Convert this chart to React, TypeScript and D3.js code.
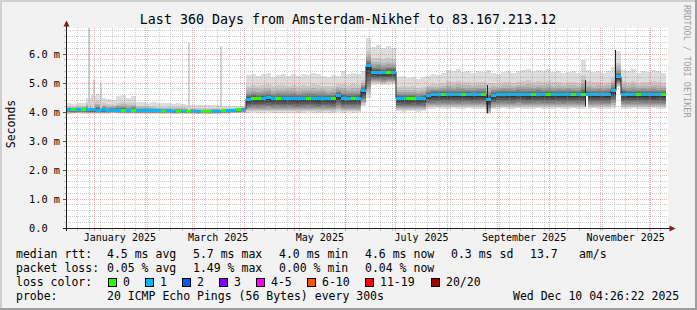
import React from "react";
import * as d3 from "d3";

const W = 697;
const H = 310;
const DAY = 86400000;
const END = Date.UTC(2025, 11, 10, 4, 26, 22);
const SPAN_DAYS = 360;
const START = END - SPAN_DAYS * DAY;
const BIN_DAYS = 3;

// ---- data (ms), one value per 3-day bin (120 bins) ----
const medianA = [4.09, 4.08, 4.09, 4.1, 4.08, 4.09, 4.07, 4.08, 4.06, 4.07, 4.06, 4.07, 4.05, 4.06, 4.05, 4.04, 4.05, 4.04, 4.04, 4.03, 4.04, 4.02, 4.03, 4.03, 4.02, 4.03, 4.01, 4.02, 4.01, 4.02, 4.03, 4.04, 4.05, 4.06, 4.08, 4.1];
const medianB = [4.45, 4.48, 4.47, 4.48, 4.49, 4.47, 4.48, 4.47, 4.48, 4.47, 4.46, 4.47, 4.48, 4.47, 4.46, 4.48, 4.47, 4.46, 4.58, 4.47, 4.48, 4.47, 4.48, 4.75];
const medianC = [5.6, 5.38, 5.37, 5.36, 5.37, 5.38];
const medianD = [4.47, 4.46, 4.46, 4.47, 4.46, 4.47];
const medianE = [4.58, 4.6, 4.61, 4.6, 4.59, 4.6, 4.6, 4.61, 4.6, 4.59, 4.6, 4.61, 4.43, 4.58, 4.6, 4.61, 4.6, 4.6, 4.62, 4.6, 4.59, 4.6, 4.61, 4.6, 4.6, 4.59, 4.6, 4.6, 4.61, 4.6, 4.6, 4.62, 4.6, 4.6, 4.61, 4.6, 4.6, 4.75, 5.22, 4.62, 4.6, 4.6, 4.61, 4.6, 4.6, 4.59, 4.6, 4.6];

const maxA = [4.3, 4.28, 4.3, 4.32, 4.5, 4.55, 4.62, 4.5, 4.45, 4.41, 4.55, 4.58, 4.5, 4.55, 4.36, 4.35, 4.32, 4.33, 4.3, 4.31, 4.3, 4.28, 4.3, 4.29, 4.25, 4.24, 4.26, 4.24, 4.23, 4.25, 4.24, 4.2, 4.21, 4.2, 4.22, 4.22];
const maxB = [5.28, 5.32, 5.25, 5.3, 5.35, 5.22, 5.28, 5.3, 5.26, 5.33, 5.24, 5.3, 5.27, 5.35, 5.3, 5.25, 5.22, 5.28, 5.26, 5.4, 5.3, 5.35, 5.32, 5.4];
const maxC = [6.55, 6.25, 6.3, 6.22, 6.28, 6.2];
const maxD = [5.2, 5.25, 5.18, 5.22, 5.15, 5.2];
const maxE = [5.25, 5.3, 5.28, 5.35, 5.45, 5.4, 5.48, 5.38, 5.4, 5.35, 5.42, 5.38, 5.45, 5.35, 5.3, 5.38, 5.42, 5.35, 5.4, 5.45, 5.5, 5.42, 5.45, 5.4, 5.48, 5.38, 5.42, 5.35, 5.38, 5.4, 5.35, 5.8, 5.45, 5.38, 5.4, 5.35, 5.42, 5.55, 6.1, 5.45, 5.4, 5.48, 5.35, 5.42, 5.38, 5.45, 5.4, 5.35];

const minA = [3.95, 3.95, 3.96, 3.95, 3.95, 3.94, 3.95, 3.95, 3.95, 3.96, 3.95, 3.95, 3.94, 3.95, 3.95, 3.95, 3.94, 3.95, 3.95, 3.94, 3.95, 3.94, 3.94, 3.95, 3.94, 3.94, 3.93, 3.94, 3.93, 3.94, 3.94, 3.95, 3.95, 3.96, 3.96, 3.97];
const minB = [3.98, 3.99, 3.98, 3.98, 3.99, 3.98, 3.98, 3.97, 3.98, 3.98, 3.97, 3.98, 3.99, 3.98, 3.97, 3.98, 3.98, 3.97, 4.0, 3.98, 3.99, 3.98, 3.99, 4.2];
const minC = [4.5, 4.95, 4.96, 4.94, 4.95, 4.96];
const minD = [4.02, 4.01, 4.02, 4.02, 4.01, 4.02];
const minE = [4.12, 4.12, 4.13, 4.12, 4.12, 4.13, 4.12, 4.12, 4.13, 4.12, 4.12, 4.12, 3.92, 4.1, 4.12, 4.13, 4.12, 4.12, 4.13, 4.12, 4.12, 4.12, 4.13, 4.12, 4.12, 4.12, 4.13, 4.12, 4.12, 4.13, 4.12, 4.12, 4.12, 4.13, 4.12, 4.12, 4.12, 4.15, 4.88, 4.12, 4.12, 4.13, 4.12, 4.12, 4.12, 4.13, 4.12, 4.12];

// loss count class per bin (0 = no loss, 1 = one of 20 lost)
const lossA = [1, 0, 1, 0, 1, 1, 1, 1, 1, 1, 1, 0, 1, 0, 1, 1, 1, 1, 1, 0, 1, 1, 0, 1, 0, 1, 1, 0, 0, 1, 1, 0, 1, 1, 0, 1];
const lossB = [1, 0, 0, 1, 1, 1, 0, 1, 1, 1, 1, 1, 0, 1, 1, 1, 1, 0, 1, 1, 1, 0, 1, 1];
const lossC = [1, 1, 1, 1, 0, 1];
const lossD = [1, 1, 0, 0, 1, 1];
const lossE = [1, 1, 1, 0, 1, 1, 1, 0, 1, 1, 1, 0, 1, 1, 1, 1, 1, 1, 1, 1, 1, 0, 1, 1, 0, 1, 1, 1, 1, 0, 1, 0, 1, 1, 1, 1, 1, 1, 1, 1, 1, 1, 0, 1, 1, 1, 1, 0];

const medianMs = [...medianA, ...medianB, ...medianC, ...medianD, ...medianE];
const maxMs = [...maxA, ...maxB, ...maxC, ...maxD, ...maxE];
const minMs = [...minA, ...minB, ...minC, ...minD, ...minE];
const lossClass = [...lossA, ...lossB, ...lossC, ...lossD, ...lossE];

// single-sample outliers (day offset from start, ms)
const spikes = [
  { day: 13.6, ms: 6.95 },
  { day: 15.0, ms: 4.6 },
  { day: 16.2, ms: 5.1 },
  { day: 20.8, ms: 5.0 },
  { day: 73.6, ms: 6.38 },
  { day: 92.4, ms: 6.28 },
];
const medianJumps = [
  { day: 253.0, lo: 3.96, hi: 4.93 },
  { day: 311.4, lo: 4.2, hi: 5.1 },
  { day: 329.8, lo: 4.6, hi: 6.14 },
];
const gaps = [{ day: 311.9, days: 1.2, hi: 4.55, lo: 4.0 }];

// smoke layer shape (outer -> inner), fraction of spread above/below median
const upperFrac = [1.0, 0.55, 0.4, 0.3, 0.22, 0.16, 0.11, 0.07, 0.04, 0.02];
const lowerFrac = [1.0, 0.9, 0.82, 0.74, 0.66, 0.57, 0.48, 0.38, 0.27, 0.15];
const smokeGrays = [221, 202, 183, 164, 145, 126, 107, 88, 69, 50];

const yTicks = [0, 1, 2, 3, 4, 5, 6];
const yTickLabels = ["0.0", "1.0 m", "2.0 m", "3.0 m", "4.0 m", "5.0 m", "6.0 m"];
const monthLabelIdx = [0, 2, 4, 6, 8, 10];
const monthLabels = ["January 2025", "March 2025", "May 2025", "July 2025", "September 2025", "November 2025"];

const lossLegend = [
  { label: "0", color: "#26ff00", x: 108 },
  { label: "1", color: "#00b8ff", x: 145 },
  { label: "2", color: "#0059ff", x: 182 },
  { label: "3", color: "#7e00ff", x: 219 },
  { label: "4-5", color: "#ff00ff", x: 256 },
  { label: "6-10", color: "#ff5500", x: 307 },
  { label: "11-19", color: "#ff0000", x: 365 },
  { label: "20/20", color: "#a10000", x: 431 },
];
const rttRow = [
  ["median rtt:", 16], ["4.5 ms avg", 107], ["5.7 ms max", 193], ["4.0 ms min", 279],
  ["4.6 ms now", 365], ["0.3 ms sd", 451], ["13.7", 530], ["am/s", 579],
] as [string, number][];
const lossRow = [
  ["packet loss:", 16], ["0.05 % avg", 107], ["1.49 % max", 193], ["0.00 % min", 279], ["0.04 % now", 365],
] as [string, number][];
const probeRow = [
  ["probe:", 16], ["20 ICMP Echo Pings (56 Bytes) every 300s", 107], ["Wed Dec 10 04:26:22 2025", 513],
] as [string, number][];

const MONO = "'DejaVu Sans Mono', monospace";
const X0 = 66, X1 = 666, Y0 = 228, Y1 = 28;

export default function App() {
  const x = d3.scaleUtc().domain([new Date(START), new Date(END)]).range([X0, X1]);
  const y = d3.scaleLinear().domain([0, 6.9]).range([Y0, Y1]);
  const xd = (day: number) => x(new Date(START + day * DAY));

  const bins = medianMs.map((m, i) => ({
    x0: xd(i * BIN_DAYS),
    x1: xd((i + 1) * BIN_DAYS),
    med: m,
    max: maxMs[i],
    min: minMs[i],
    loss: lossClass[i],
  }));

  const lossColor = (c: number) => lossLegend[Math.min(c, lossLegend.length - 1)].color;

  const medLine = d3
    .line<{ d: number; v: number }>()
    .x((p) => xd(p.d))
    .y((p) => y(p.v))
    .curve(d3.curveStepAfter)(
    [...medianMs.map((v, i) => ({ d: i * BIN_DAYS, v })), { d: medianMs.length * BIN_DAYS, v: medianMs[medianMs.length - 1] }]
  );

  // grid
  const minorY = d3.range(1, 35).map((k) => k * 0.2).filter((v) => Math.abs(v - Math.round(v)) > 0.01);
  const months = d3.utcMonth.range(new Date(START), new Date(END));
  const weeks = d3.utcSunday.range(new Date(START), new Date(END));
  const px = (v: number) => Math.floor(v) + 0.5;

  const gridMinor = "rgba(143,143,143,0.45)";
  const gridMajor = "rgba(222,79,79,0.45)";

  return (
    <svg width={W} height={H} style={{ position: "absolute", left: 0, top: 0, display: "block" }} fontFamily={MONO}>
      <rect x={0} y={0} width={W} height={H} fill="#f2f2f2" />
      <rect x={0} y={0} width={W} height={2} fill="#cfcfcf" />
      <rect x={0} y={0} width={2} height={H} fill="#cfcfcf" />
      <rect x={0} y={H - 2} width={W} height={2} fill="#9e9e9e" />
      <rect x={W - 2} y={0} width={2} height={H} fill="#9e9e9e" />
      <rect x={X0} y={Y1} width={668 - X0} height={Y0 - Y1} fill="#ffffff" />

      {/* smoke */}
      <g shapeRendering="crispEdges">
        {bins.map((b, i) =>
          upperFrac.map((uf, k) => {
            const top = b.med + uf * (b.max - b.med);
            const bot = b.med - lowerFrac[k] * (b.med - b.min);
            const g = smokeGrays[k];
            return (
              <rect
                key={`s${i}-${k}`}
                x={b.x0}
                width={b.x1 - b.x0 + 0.01}
                y={y(top)}
                height={y(bot) - y(top)}
                fill={`rgb(${g},${g},${g})`}
              />
            );
          })
        )}
        {spikes.map((s, i) => {
          const bi = Math.floor(s.day / BIN_DAYS);
          const base = medianMs[bi];
          return (
            <rect key={`sp${i}`} x={Math.floor(xd(s.day))} width={1.5} y={Math.max(Y1, y(s.ms))} height={y(base) - Math.max(Y1, y(s.ms))} fill="#d4d4d4" />
          );
        })}
        {gaps.map((g, i) => (
          <rect key={`g${i}`} x={xd(g.day)} width={xd(g.day + g.days) - xd(g.day)} y={y(g.hi)} height={y(g.lo) - y(g.hi)} fill="#ffffff" />
        ))}
      </g>

      {/* median */}
      <path d={medLine ?? ""} fill="none" stroke="#202020" strokeWidth={1} />
      {medianJumps.map((j, i) => (
        <line key={`mj${i}`} x1={px(xd(j.day))} x2={px(xd(j.day))} y1={y(j.lo)} y2={y(j.hi)} stroke="#202020" strokeWidth={1} />
      ))}
      <g shapeRendering="crispEdges">
        {bins.map((b, i) => (
          <rect key={`m${i}`} x={b.x0} width={b.x1 - b.x0 + 0.01} y={y(b.med) - 1.5} height={3} fill={lossColor(b.loss)} />
        ))}
      </g>

      {/* grid */}
      <g shapeRendering="crispEdges" strokeWidth={1}>
        {minorY.map((v, i) => (
          <g key={`hy${i}`}>
            <line x1={64} x2={66} y1={px(y(v))} y2={px(y(v))} stroke={gridMinor} />
            <line x1={66} x2={668} y1={px(y(v))} y2={px(y(v))} stroke={gridMinor} strokeDasharray="1,1" />
          </g>
        ))}
        {weeks.map((w, i) => (
          <g key={`wx${i}`}>
            <line x1={px(x(w))} x2={px(x(w))} y1={Y0} y2={Y0 + 3} stroke={gridMinor} />
            <line x1={px(x(w))} x2={px(x(w))} y1={Y1} y2={Y0} stroke={gridMinor} strokeDasharray="1,1" />
          </g>
        ))}
        {yTicks.slice(1).map((v, i) => (
          <g key={`My${i}`}>
            <line x1={63} x2={66} y1={px(y(v))} y2={px(y(v))} stroke="#555" />
            <line x1={66} x2={668} y1={px(y(v))} y2={px(y(v))} stroke={gridMajor} strokeDasharray="1,1" />
          </g>
        ))}
        {months.map((m, i) => (
          <g key={`Mx${i}`}>
            <line x1={px(x(m))} x2={px(x(m))} y1={Y0} y2={Y0 + 3} stroke={gridMajor} />
            <line x1={px(x(m))} x2={px(x(m))} y1={Y1} y2={Y0} stroke={gridMajor} strokeDasharray="1,1" />
          </g>
        ))}
      </g>

      {/* axes */}
      <g shapeRendering="crispEdges">
        <line x1={66.5} x2={66.5} y1={231} y2={26} stroke="#1f1f1f" />
        <line x1={63} x2={670} y1={228.5} y2={228.5} stroke="#1f1f1f" />
      </g>
      <path d="M63.5,26.5 L69.5,26.5 L66.5,20.5 Z" fill="#801f1f" />
      <path d="M669.5,225.5 L669.5,231.5 L675.5,228.5 Z" fill="#801f1f" />

      {/* y labels */}
      {yTicks.map((v, i) => (
        <text key={`yl${i}`} x={29} y={y(v) + 3.6} fontSize={10.3} fill="#000" style={{ whiteSpace: "pre" }}>
          {yTickLabels[i]}
        </text>
      ))}
      {/* x labels */}
      {monthLabelIdx.map((mi, i) => {
        const a = Date.UTC(2025, mi, 1);
        const b = Date.UTC(2025, mi + 1, 1);
        const cx = (x(new Date(a)) + x(new Date(b))) / 2;
        return (
          <text key={`xl${i}`} x={cx} y={241} fontSize={10} textAnchor="middle" fill="#000">
            {monthLabels[i]}
          </text>
        );
      })}

      {/* titles */}
      <text x={348} y={24} fontSize={13.3} textAnchor="middle" fill="#000">
        Last 360 Days from Amsterdam-Nikhef to 83.167.213.12
      </text>
      <text transform="translate(15,124) rotate(-90)" fontSize={11.5} textAnchor="middle" fill="#000">
        Seconds
      </text>
      <text transform="translate(684,5) rotate(90)" fontSize={8.5} fill="#a0a0a0">
        RRDTOOL / TOBI OETIKER
      </text>

      {/* legend */}
      {rttRow.map(([t, tx], i) => (
        <text key={`r${i}`} x={tx} y={258} fontSize={11.5} fill="#000">{t}</text>
      ))}
      {lossRow.map(([t, tx], i) => (
        <text key={`l${i}`} x={tx} y={272} fontSize={11.5} fill="#000">{t}</text>
      ))}
      <text x={16} y={286} fontSize={11.5} fill="#000">loss color:</text>
      {lossLegend.map((l, i) => (
        <g key={`lc${i}`}>
          <rect x={l.x + 0.5} y={278.5} width={8} height={8} fill={l.color} stroke="#000" strokeWidth={1} />
          <text x={l.x + 15} y={286} fontSize={11.5} fill="#000">{l.label}</text>
        </g>
      ))}
      {probeRow.map(([t, tx], i) => (
        <text key={`p${i}`} x={tx} y={300} fontSize={11.5} fill="#000" style={{ whiteSpace: "pre" }}>{t}</text>
      ))}
    </svg>
  );
}
